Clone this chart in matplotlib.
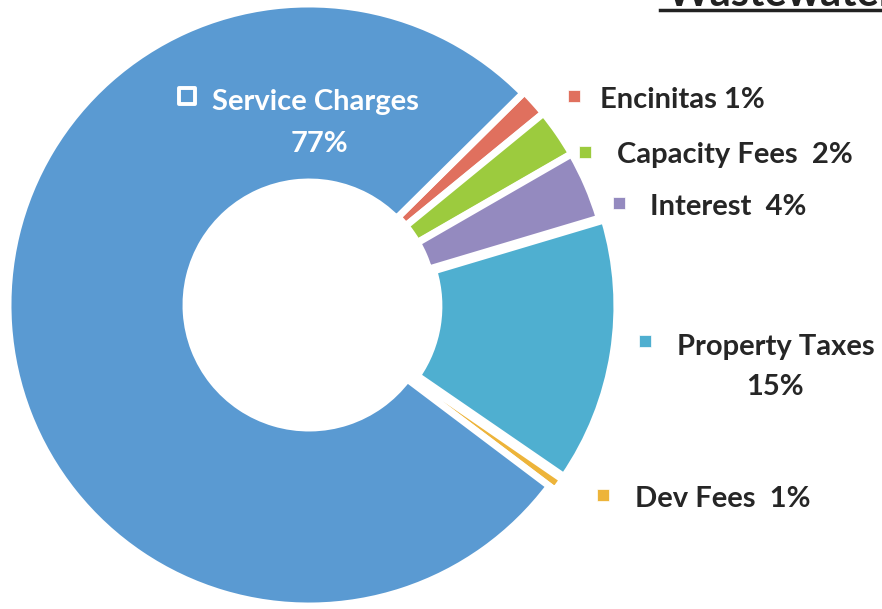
import matplotlib.pyplot as plt

# revenue shares (labels show rounded values)
categories = ['Encinitas', 'Capacity Fees', 'Interest', 'Property Taxes', 'Dev Fees', 'Service Charges']
shares = [1.5, 2.6, 3.7, 14.2, 0.7, 77.3]
labels = ['Encinitas 1%', 'Capacity Fees  2%', 'Interest  4%', 'Property Taxes', 'Dev Fees  1%', 'Service Charges']
pct_extra = {'Property Taxes': '15%', 'Service Charges': '77%'}
colors = ['#E0705E', '#9CCB3E', '#948ABF', '#4FAFD0', '#EDB43A', '#5A9AD2']

plt.rcParams['font.family'] = ['Lato', 'DejaVu Sans']

fig = plt.figure(figsize=(8.82, 6.09), dpi=100)
ax = fig.add_axes([0, 0, 1, 1])

cx, cy, R = 309, 304, 301
ax.pie(shares, colors=colors, startangle=44.7, counterclock=False,
       center=(cx, cy), radius=R, frame=True,
       explode=[2, 2, 2, 7, 7, 0],
       wedgeprops=dict(width=R - 123, edgecolor='white', linewidth=5))
ax.set_xlim(0, 882)
ax.set_ylim(0, 609)
ax.set_aspect('equal')
ax.axis('off')

# side labels with square markers: marker x, marker y, text x, baseline y
lab_pos = [(574, 513, 600, 501), (585, 457, 617, 446), (619, 406, 650, 394),
           (645, 268, 677, 254), (603, 114, 635, 102)]
for i, (mx, my, tx, ty) in enumerate(lab_pos):
    ax.scatter(mx, my, marker='s', s=70, color=colors[i], edgecolors='white', linewidths=0.5, zorder=5)
    ax.text(tx, ty, labels[i], fontsize=21, fontweight='bold', color='#262626', va='baseline', ha='left')
ax.text(775, 214, pct_extra['Property Taxes'], fontsize=21, fontweight='bold', color='#262626',
        va='baseline', ha='center')

# service charges label inside the ring
ax.scatter(187, 513, marker='s', s=120, facecolor='none', edgecolors='white', linewidths=2.8, zorder=5)
ax.text(212, 499, labels[5], fontsize=21, fontweight='bold', color='white', va='baseline', ha='left')
ax.text(319, 457, pct_extra['Service Charges'], fontsize=21, fontweight='bold', color='white',
        va='baseline', ha='center')

# title, cut by the top edge
ax.text(667, 603, 'Wastewater', fontsize=30, fontweight='bold', color='#222222', va='baseline', ha='left')
ax.plot([660, 882], [599, 599], color='#222222', linewidth=2.5)

fig.savefig('out.png', dpi=100)
